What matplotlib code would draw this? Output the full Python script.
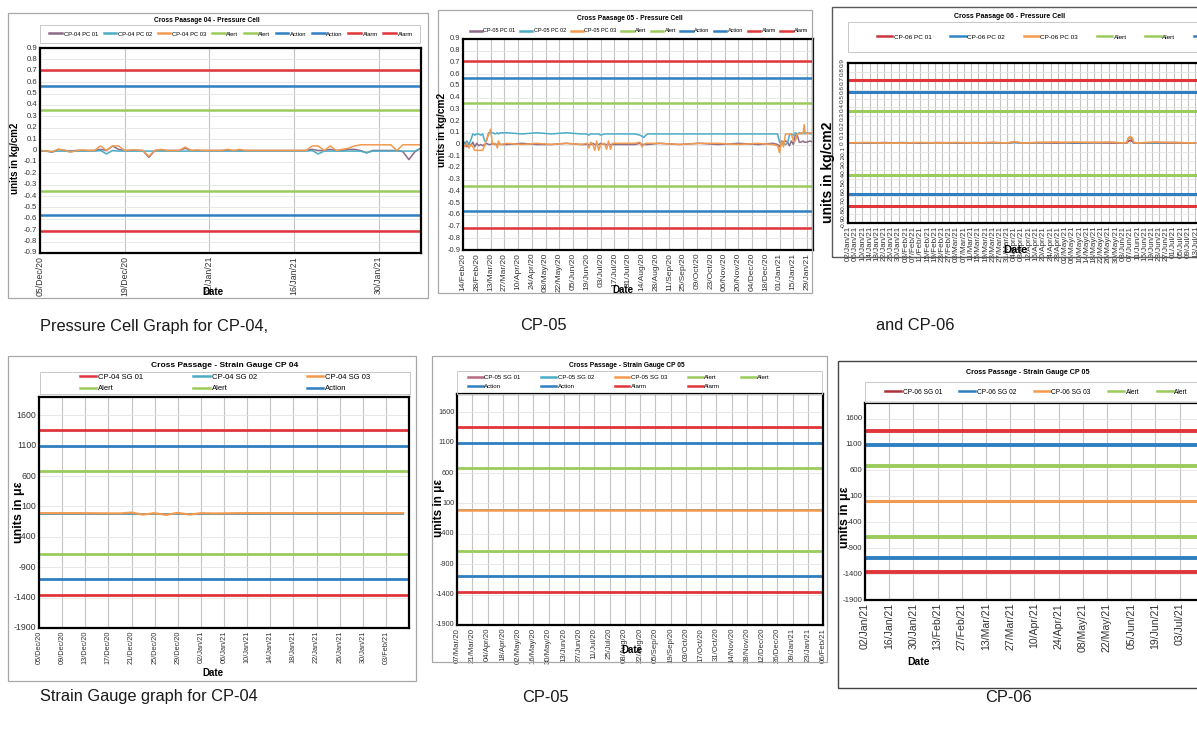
import pandas as pd
import matplotlib
matplotlib.use("Agg")
import matplotlib.pyplot as plt
from matplotlib.lines import Line2D
from matplotlib.patches import Rectangle

ARIAL = ['Liberation Sans', 'DejaVu Sans']
plt.rcParams['font.family'] = ARIAL

W, H = 1197, 734

# colours
C_ALERT = '#9bcb5c'
C_ACTION = '#2f7fc1'
C_ALARM = '#e0353b'
C_MAUVE = '#8c6b88'
C_LBLUE = '#4bacc6'
C_ORANGE = '#f29a4f'

# threshold levels
pc_alert = [0.355, -0.355]
pc_action = [0.57, -0.57]
pc_alarm = [0.71, -0.71]
sg_alert = [680, -680]
sg_action = [1090, -1090]
sg_alarm = [1360, -1360]

pc_yticks = [0.9, 0.8, 0.7, 0.6, 0.5, 0.4, 0.3, 0.2, 0.1, 0, -0.1, -0.2, -0.3, -0.4, -0.5, -0.6, -0.7, -0.8, -0.9]
pc_ylabels = ['0.9', '0.8', '0.7', '0.6', '0.5', '0.4', '0.3', '0.2', '0.1', '0', '-0.1', '-0.2', '-0.3',
              '-0.4', '-0.5', '-0.6', '-0.7', '-0.8', '-0.9']
sg_yticks = [1600, 1100, 600, 100, -400, -900, -1400, -1900]
sg_ylabels = ['1600', '1100', '600', '100', '-400', '-900', '-1400', '-1900']

# ---- CP-04 pressure cells, daily from 05/Dec/20
p1_start = '2020-12-05'
p1_pc01 = [0.0, -0.005, -0.015, 0.01, 0.0, -0.005, 0.0, 0.0,
           0.0, 0.0, 0.01, 0.0, 0.04, 0.01, 0.0, 0.0,
           0.0, 0.0, -0.06, 0.0, 0.005, 0.0, 0.0, 0.0,
           0.02, 0.0, 0.0, 0.0, 0.0, 0.0, 0.0, 0.0,
           0.0, 0.0, 0.0, 0.0, 0.0, 0.0, 0.0, 0.0,
           0.0, 0.0, 0.0, 0.0, 0.0, 0.01, 0.0, 0.0,
           0.01, 0.0, 0.0, 0.01, 0.01, 0.0, -0.02, 0.0,
           0.0, 0.0, 0.0, 0.0, -0.01, -0.08, -0.01, 0.02]
p1_pc02 = [-0.005, -0.005, -0.01, -0.005, -0.005, -0.01, -0.005, -0.005,
           -0.005, -0.005, 0.0, -0.03, 0.0, -0.005, -0.005, -0.005,
           -0.005, -0.005, -0.005, -0.005, -0.005, -0.005, -0.005, -0.005,
           -0.005, -0.005, -0.005, -0.005, -0.005, -0.005, -0.005, -0.005,
           -0.005, -0.005, -0.005, -0.005, -0.005, -0.005, -0.005, -0.005,
           -0.005, -0.005, -0.005, -0.005, -0.005, 0.0, -0.03, -0.005,
           -0.005, -0.005, -0.005, -0.005, -0.005, -0.005, -0.02, -0.005,
           -0.005, -0.005, -0.005, -0.005, -0.005, -0.005, -0.005, 0.02]
p1_pc03 = [0.0, -0.005, -0.01, 0.01, 0.005, -0.015, 0.0, 0.005,
           0.0, 0.0, 0.04, 0.0, 0.04, 0.04, 0.0, 0.005,
           0.005, 0.0, -0.05, 0.0, 0.01, 0.0, 0.0, 0.0,
           0.03, 0.0, 0.005, 0.0, 0.0, 0.0, 0.0, 0.01,
           0.0, 0.01, 0.0, 0.0, 0.0, 0.0, 0.0, 0.0,
           0.0, 0.0, 0.0, 0.0, 0.0, 0.04, 0.04, 0.0,
           0.04, 0.0, 0.01, 0.02, 0.04, 0.05, 0.05, 0.05,
           0.05, 0.05, 0.05, 0.0, 0.05, 0.05, 0.05, 0.05]
p1_ticks = ['05/Dec/20', '19/Dec/20', '02/Jan/21', '16/Jan/21', '30/Jan/21']

# ---- CP-05 pressure cells, days after 14/Feb/20
p2_start = '2020-02-14'
p2_day = [0, 2, 4, 6, 8, 10, 12, 14, 16, 18, 20, 22, 24, 26, 28, 30, 33, 35, 36, 38, 45, 60, 75, 90,
          105, 120, 126, 128, 130, 132, 134, 136, 138, 140, 144, 146, 148, 150, 152, 160, 175, 180,
          182, 184, 186, 188, 200, 220, 240, 260, 280, 300, 315, 320, 322, 324, 326, 328, 330, 332,
          334, 336, 338, 340, 342, 344, 346, 347, 348, 350, 353, 356]
p2_pc01 = [0.0, 0.02, -0.02, 0.01, -0.01, 0.02, -0.02, 0.01, -0.01, 0.0, -0.01, 0.0, 0.01, 0.0,
           0.0, 0.01, 0.0, 0.0, 0.01, 0.0, 0.0, 0.01, 0.0, 0.0, 0.01, 0.0, 0.0, 0.0, 0.0, 0.01,
           0.0, 0.0, 0.0, 0.01, 0.0, 0.0, 0.0, 0.0, 0.0, 0.0, 0.0, 0.01, 0.0, 0.0, 0.0, 0.0,
           0.01, 0.0, 0.01, 0.0, 0.01, 0.0, 0.01, 0.0, -0.02, 0.03, 0.02, 0.03, 0.02, -0.01,
           0.03, 0.0, 0.08, 0.08, 0.02, 0.02, 0.03, 0.02, 0.02, 0.02, 0.03, 0.02]
p2_pc02 = [0.0, 0.01, 0.03, 0.0, 0.04, 0.09, 0.08, 0.09, 0.09, 0.08, 0.09, 0.03, 0.03, 0.1,
           0.1, 0.1, 0.09, 0.1, 0.09, 0.1, 0.1, 0.09, 0.1, 0.09, 0.1, 0.09, 0.09, 0.08, 0.09, 0.09,
           0.09, 0.09, 0.09, 0.08, 0.09, 0.09, 0.09, 0.09, 0.09, 0.09, 0.09, 0.08, 0.07, 0.06,
           0.08, 0.09, 0.09, 0.09, 0.09, 0.09, 0.09, 0.09, 0.09, 0.09, 0.02, 0.0, 0.01, 0.0, 0.01,
           0.08, 0.09, 0.08, 0.1, 0.09, 0.1, 0.09, 0.1, 0.1, 0.09, 0.1, 0.09, 0.1]
p2_pc03 = [0.0, -0.02, 0.01, -0.03, 0.0, -0.02, -0.05, -0.05, -0.05, -0.05, -0.05, -0.01, 0.05,
           0.08, 0.13, 0.0, 0.01, -0.03, 0.03, 0.0, 0.01, 0.0, 0.01, 0.0, 0.01, 0.0, 0.01, -0.03,
           0.02, 0.0, -0.05, 0.03, -0.05, 0.0, 0.01, -0.04, 0.03, -0.04, 0.01, 0.01, 0.01, 0.02,
           -0.02, 0.0, 0.01, 0.01, 0.01, 0.0, 0.01, 0.01, 0.0, 0.01, 0.0, -0.01, -0.07, 0.03,
           -0.02, 0.09, 0.09, 0.09, 0.09, 0.03, 0.03, 0.09, 0.09, 0.1, 0.09, 0.17, 0.1, 0.09, 0.1, 0.09]
p2_ticks = ['14/Feb/20', '28/Feb/20', '13/Mar/20', '27/Mar/20', '10/Apr/20', '24/Apr/20', '08/May/20',
            '22/May/20', '05/Jun/20', '19/Jun/20', '03/Jul/20', '17/Jul/20', '31/Jul/20', '14/Aug/20',
            '28/Aug/20', '11/Sep/20', '25/Sep/20', '09/Oct/20', '23/Oct/20', '06/Nov/20', '20/Nov/20',
            '04/Dec/20', '18/Dec/20', '01/Jan/21', '15/Jan/21', '29/Jan/21']

# ---- CP-06 pressure cells, days after 02/Jan/21
p3_start = '2021-01-02'
p3_day = [0, 10, 20, 30, 40, 50, 60, 70, 80, 88, 92, 96, 105, 115, 120, 125, 135, 145, 152, 154,
          155, 156, 157, 158, 160, 170, 180, 192]
p3_pc01 = [0.0, 0.0, 0.005, 0.0, 0.0, 0.005, 0.0, 0.0, 0.005, 0.0, 0.01, 0.0, 0.005, 0.0, 0.005,
           0.0, 0.005, 0.0, 0.0, 0.0, 0.02, 0.03, 0.02, 0.0, 0.0, 0.005, 0.0, 0.0]
p3_pc02 = [0.0, 0.0, 0.0, 0.005, 0.0, 0.0, 0.0, 0.005, 0.0, 0.0, 0.005, 0.0, 0.0, 0.005, 0.0,
           0.0, 0.0, 0.005, 0.0, 0.0, 0.05, 0.07, 0.04, 0.0, 0.0, 0.0, 0.005, 0.0]
p3_pc03 = [0.0, 0.005, 0.0, 0.0, 0.005, 0.0, 0.005, 0.0, 0.005, 0.0, 0.015, 0.0, 0.005, 0.01,
           0.005, 0.01, 0.005, 0.01, 0.0, 0.005, 0.06, 0.07, 0.06, 0.005, 0.0, 0.01, 0.005, 0.0]
p3_ticks = ['02/Jan/21', '06/Jan/21', '10/Jan/21', '14/Jan/21', '18/Jan/21', '22/Jan/21', '26/Jan/21',
            '30/Jan/21', '03/Feb/21', '07/Feb/21', '11/Feb/21', '15/Feb/21', '19/Feb/21', '23/Feb/21',
            '27/Feb/21', '03/Mar/21', '07/Mar/21', '11/Mar/21', '15/Mar/21', '19/Mar/21', '23/Mar/21',
            '27/Mar/21', '31/Mar/21', '04/Apr/21', '08/Apr/21', '12/Apr/21', '16/Apr/21', '20/Apr/21',
            '24/Apr/21', '28/Apr/21', '02/May/21', '06/May/21', '10/May/21', '14/May/21', '18/May/21',
            '22/May/21', '26/May/21', '30/May/21', '03/Jun/21', '07/Jun/21', '11/Jun/21', '15/Jun/21',
            '19/Jun/21', '23/Jun/21', '27/Jun/21', '01/Jul/21', '05/Jul/21', '09/Jul/21', '13/Jul/21',
            '17/Jul/21', '21/Jul/21', '25/Jul/21', '29/Jul/21']

# ---- CP-04 strain gauges, days after 05/Dec/20
p4_start = '2020-12-05'
p4_day = [0, 7, 14, 16, 18, 20, 22, 24, 26, 28, 30, 35, 42, 49, 56, 63]
p4_sg01 = [-20, -20, -20, -20, -20, -20, -20, -20, -20, -20, -20, -20, -20, -20, -20, -20]
p4_sg02 = [-25, -25, -25, -25, -25, -25, -25, -25, -25, -25, -25, -25, -25, -25, -25, -25]
p4_sg03 = [-10, -10, -15, 0, -35, -10, -40, -5, -35, -10, -15, -10, -10, -10, -10, -10]
p4_ticks = ['05/Dec/20', '09/Dec/20', '13/Dec/20', '17/Dec/20', '21/Dec/20', '25/Dec/20', '29/Dec/20',
            '02/Jan/21', '06/Jan/21', '10/Jan/21', '14/Jan/21', '18/Jan/21', '22/Jan/21', '26/Jan/21',
            '30/Jan/21', '03/Feb/21']

# ---- CP-05 strain gauges, days after 07/Mar/20
p5_start = '2020-03-07'
p5_day = [0, 90, 180, 270, 336]
p5_sg01 = [0, 0, 0, 0, 0]
p5_sg02 = [0, 0, 0, 0, 0]
p5_sg03 = [0, 0, 0, 0, 0]
p5_ticks = ['07/Mar/20', '21/Mar/20', '04/Apr/20', '18/Apr/20', '02/May/20', '16/May/20', '30/May/20',
            '13/Jun/20', '27/Jun/20', '11/Jul/20', '25/Jul/20', '08/Aug/20', '22/Aug/20', '05/Sep/20',
            '19/Sep/20', '03/Oct/20', '17/Oct/20', '31/Oct/20', '14/Nov/20', '28/Nov/20', '12/Dec/20',
            '26/Dec/20', '09/Jan/21', '23/Jan/21', '06/Feb/21']

# ---- CP-06 strain gauges, days after 02/Jan/21
p6_start = '2021-01-02'
p6_day = [0, 60, 120, 180, 210]
p6_sg01 = [0, 0, 0, 0, 0]
p6_sg02 = [0, 0, 0, 0, 0]
p6_sg03 = [0, 0, 0, 0, 0]
p6_ticks = ['02/Jan/21', '16/Jan/21', '30/Jan/21', '13/Feb/21', '27/Feb/21', '13/Mar/21', '27/Mar/21',
            '10/Apr/21', '24/Apr/21', '08/May/21', '22/May/21', '05/Jun/21', '19/Jun/21', '03/Jul/21',
            '17/Jul/21', '31/Jul/21']

captions = [('Pressure Cell Graph for CP-04,', 40, 326), ('CP-05', 520, 326), ('and CP-06', 876, 326),
            ('Strain Gauge graph for CP-04', 40, 697), ('CP-05', 522, 697), ('CP-06', 985, 697)]

fig = plt.figure(figsize=(W / 100, H / 100), dpi=100)


def frame(x0, y0, x1, y1, color='#a8a8a8', lw=0.9):
    fig.add_artist(Rectangle((x0 / W, 1 - y1 / H), (x1 - x0) / W, (y1 - y0) / H,
                             transform=fig.transFigure, fill=False, ec=color, lw=lw))


def ftext(x, y, s, **kw):
    fig.text(x / W, 1 - y / H, s, **kw)


def add_axes(x0, y0, x1, y1):
    return fig.add_axes([x0 / W, 1 - y1 / H, (x1 - x0) / W, (y1 - y0) / H])


def days(start, offsets):
    return pd.Timestamp(start) + pd.to_timedelta(offsets, unit='D')


def style(ax, xt, xlim, yt, yl, ylim, xfs, yfs, yrot=0):
    ax.set_xlim(pd.Timestamp(xlim[0]), pd.Timestamp(xlim[1]))
    ax.set_ylim(ylim)
    ax.set_xticks(pd.to_datetime(xt, format='%d/%b/%y'))
    ax.set_xticklabels(xt, rotation=90, fontsize=xfs, color='#333333')
    ax.set_yticks(yt)
    ax.set_yticklabels(yl, fontsize=yfs, color='#333333', rotation=yrot, va='center')
    ax.tick_params(length=0, pad=2)
    ax.grid(axis='x', color='#c4c4c4', lw=0.8)
    ax.grid(axis='y', color='#e4e4e4', lw=0.6)
    ax.set_axisbelow(True)
    for s in ax.spines.values():
        s.set_linewidth(1.6)


def limits(ax, alert, action, alarm, lw):
    for v in alert:
        ax.axhline(v, color=C_ALERT, lw=lw)
    for v in action:
        ax.axhline(v, color=C_ACTION, lw=lw)
    for v in alarm:
        ax.axhline(v, color=C_ALARM, lw=lw)


def legend(ax, names, colors, x, y, loc, ncol, fs, cs, order=None, hl=2.4):
    handles = [Line2D([], [], color=c, lw=1.8) for c in colors]
    if order:
        handles = [handles[i] for i in order]
        names = [names[i] for i in order]
    ax.legend(handles, names, loc=loc, bbox_to_anchor=(x / W, 1 - y / H), bbox_transform=fig.transFigure,
              ncol=ncol, frameon=False, borderpad=0, borderaxespad=0, handlelength=hl, handletextpad=0.25,
              columnspacing=cs, labelspacing=0.5, prop={'size': fs})


lim_cols = [C_ALERT, C_ALERT, C_ACTION, C_ACTION, C_ALARM, C_ALARM]
lim_names = ['Alert', 'Alert', 'Action', 'Action', 'Alarm', 'Alarm']

# ================= Panel 1 : CP-04 pressure cell
frame(8, 13, 428, 298)
frame(40, 25, 420, 43, color='#c8c8c8', lw=0.7)
ax = add_axes(40, 48, 421, 253)
d = pd.date_range(p1_start, periods=len(p1_pc01))
ax.plot(d, p1_pc01, color=C_MAUVE, lw=1.1)
ax.plot(d, p1_pc02, color=C_LBLUE, lw=1.1)
ax.plot(d, p1_pc03, color=C_ORANGE, lw=1.1)
limits(ax, pc_alert, pc_action, pc_alarm, 1.8)
style(ax, p1_ticks, ('2020-12-05', '2021-02-06'), pc_yticks, pc_ylabels, (-0.9, 0.9), 6.3, 5.6)
legend(ax, ['CP-04 PC 01', 'CP-04 PC 02', 'CP-04 PC 03'] + lim_names,
       [C_MAUVE, C_LBLUE, C_ORANGE] + lim_cols, 231, 34, 'center', 9, 4.2, 0.95, hl=2.2)
ftext(207, 20, 'Cross Paasage 04 - Pressure Cell', ha='center', va='center', fontsize=4.8, weight='bold')
ftext(15, 158, 'units in kg/cm2', rotation=90, ha='center', va='center', fontsize=7, weight='bold')
ftext(213, 292, 'Date', ha='center', va='center', fontsize=7, weight='bold')

# ================= Panel 2 : CP-05 pressure cell
frame(438, 10, 812, 293)
ax = add_axes(463, 39, 813, 250)
d = days(p2_start, p2_day)
ax.plot(d, p2_pc01, color=C_MAUVE, lw=1.1)
ax.plot(d, p2_pc02, color=C_LBLUE, lw=1.1)
ax.plot(d, p2_pc03, color=C_ORANGE, lw=1.1)
limits(ax, pc_alert, pc_action, pc_alarm, 1.8)
style(ax, p2_ticks, ('2020-02-14', '2021-02-04'), pc_yticks, pc_ylabels, (-0.9, 0.9), 6.0, 5.4)
legend(ax, ['CP-05 PC 01', 'CP-05 PC 02', 'CP-05 PC 03'] + lim_names,
       [C_MAUVE, C_LBLUE, C_ORANGE] + lim_cols, 639, 31, 'center', 9, 4.0, 0.85, hl=2.2)
ftext(630, 18, 'Cross Paasage 05 - Pressure Cell', ha='center', va='center', fontsize=4.8, weight='bold')
ftext(442, 130, 'units in kg/cm2', rotation=90, ha='center', va='center', fontsize=7.3, weight='bold')
ftext(623, 290, 'Date', ha='center', va='center', fontsize=7, weight='bold')

# ================= Panel 3 : CP-06 pressure cell (cut at right edge)
frame(832, 7, 1240, 257, color='#5a5a5a', lw=1.0)
frame(848, 22, 1240, 52, color='#c8c8c8', lw=0.7)
ax = add_axes(848, 63, 1228, 223)
d = days(p3_start, p3_day)
ax.plot(d, p3_pc01, color='#c9373c', lw=1.1)
ax.plot(d, p3_pc02, color='#2f86c5', lw=1.1)
ax.plot(d, p3_pc03, color=C_ORANGE, lw=1.3)
limits(ax, pc_alert, pc_action, pc_alarm, 2.2)
style(ax, p3_ticks, ('2021-01-02', '2021-07-31'), pc_yticks, pc_ylabels, (-0.9, 0.9), 5.8, 4.6, yrot=90)
legend(ax, ['CP-06 PC 01', 'CP-06 PC 02', 'CP-06 PC 03'] + lim_names,
       ['#c9373c', '#2f86c5', C_ORANGE] + lim_cols, 877, 37, 'center left', 9, 4.6, 2.9)
ftext(1010, 17, 'Cross Paasage 06 - Pressure Cell', ha='center', va='center', fontsize=5.0, weight='bold')
ftext(828, 172, 'units in kg/cm2', rotation=90, ha='center', va='center', fontsize=10, weight='bold')
ftext(1015, 250, 'Date', ha='center', va='center', fontsize=8, weight='bold')

# ================= Panel 4 : CP-04 strain gauge
frame(8, 356, 416, 681)
frame(40, 372, 410, 394, color='#c8c8c8', lw=0.7)
ax = add_axes(39, 397, 409, 628)
d = days(p4_start, p4_day)
ax.plot(d, p4_sg01, color=C_ALARM, lw=1.2)
ax.plot(d, p4_sg02, color=C_LBLUE, lw=1.2)
ax.plot(d, p4_sg03, color=C_ORANGE, lw=1.5)
limits(ax, sg_alert, sg_action, sg_alarm, 2.0)
style(ax, p4_ticks, ('2020-12-05', '2021-02-07'), sg_yticks, sg_ylabels, (-1900, 1900), 5.3, 6.3)
legend(ax, ['CP-04 SG 01', 'CP-04 SG 02', 'CP-04 SG 03', 'Alert', 'Alert', 'Action'],
       [C_ALARM, C_LBLUE, C_ORANGE, C_ALERT, C_ALERT, C_ACTION], 225, 383, 'center', 3, 5.5, 6.5,
       order=[0, 3, 1, 4, 2, 5], hl=2.2)
ftext(225, 365, 'Cross Passage - Strain Gauge CP 04', ha='center', va='center', fontsize=6, weight='bold')
ftext(19, 512, 'units in με', rotation=90, ha='center', va='center', fontsize=9, weight='bold')
ftext(213, 673, 'Date', ha='center', va='center', fontsize=7, weight='bold')

# ================= Panel 5 : CP-05 strain gauge
frame(432, 356, 827, 662)
frame(457, 371, 822, 394, color='#c8c8c8', lw=0.7)
ax = add_axes(457, 394, 823, 625)
d = days(p5_start, p5_day)
ax.plot(d, p5_sg01, color='#b56a7f', lw=1.2)
ax.plot(d, p5_sg02, color=C_LBLUE, lw=1.2)
ax.plot(d, p5_sg03, color=C_ORANGE, lw=1.8)
limits(ax, sg_alert, sg_action, sg_alarm, 2.0)
style(ax, p5_ticks, ('2020-03-07', '2021-02-06'), sg_yticks, sg_ylabels, (-1900, 1900), 5.6, 5.2)
legend(ax, ['CP-05 SG 01', 'CP-05 SG 02', 'CP-05 SG 03', 'Alert', 'Alert', 'Action', 'Action', 'Alarm', 'Alarm'],
       ['#b56a7f', C_LBLUE, C_ORANGE, C_ALERT, C_ALERT, C_ACTION, C_ACTION, C_ALARM, C_ALARM],
       468, 382, 'center left', 5, 4.4, 3.4, order=[0, 5, 1, 6, 2, 7, 3, 8, 4])
ftext(627, 365, 'Cross Passage - Strain Gauge CP 05', ha='center', va='center', fontsize=4.8, weight='bold')
ftext(439, 508, 'units in με', rotation=90, ha='center', va='center', fontsize=8.5, weight='bold')
ftext(632, 650, 'Date', ha='center', va='center', fontsize=7, weight='bold')

# ================= Panel 6 : CP-06 strain gauge (cut at right edge)
frame(838, 361, 1240, 688, color='#444444', lw=1.0)
frame(865, 382, 1240, 402, color='#c8c8c8', lw=0.7)
ax = add_axes(865, 403, 1228, 600)
d = days(p6_start, p6_day)
ax.plot(d, p6_sg01, color='#b0303a', lw=1.2)
ax.plot(d, p6_sg02, color='#2a7fc0', lw=1.2)
ax.plot(d, p6_sg03, color=C_ORANGE, lw=2.2)
limits(ax, sg_alert, sg_action, sg_alarm, 2.8)
style(ax, p6_ticks, ('2021-01-02', '2021-07-31'), sg_yticks, sg_ylabels, (-1900, 1900), 7.6, 5.6)
legend(ax, ['CP-06 SG 01', 'CP-06 SG 02', 'CP-06 SG 03', 'Alert', 'Alert', 'Action', 'Action', 'Alarm', 'Alarm'],
       ['#b0303a', '#2a7fc0', C_ORANGE, C_ALERT, C_ALERT, C_ACTION, C_ACTION, C_ALARM, C_ALARM],
       885, 392, 'center left', 9, 4.8, 2.6)
ftext(1028, 373, 'Cross Passage - Strain Gauge CP 05', ha='center', va='center', fontsize=5.1, weight='bold')
ftext(845, 517, 'units in με', rotation=90, ha='center', va='center', fontsize=9, weight='bold')
ftext(918, 662, 'Date', ha='center', va='center', fontsize=7.5, weight='bold')

# captions under each row
for txt, x, y in captions:
    ftext(x, y, txt, ha='left', va='center', fontsize=11.8, color='#1a1a1a')

fig.savefig('out.png', dpi=100, facecolor='white')
